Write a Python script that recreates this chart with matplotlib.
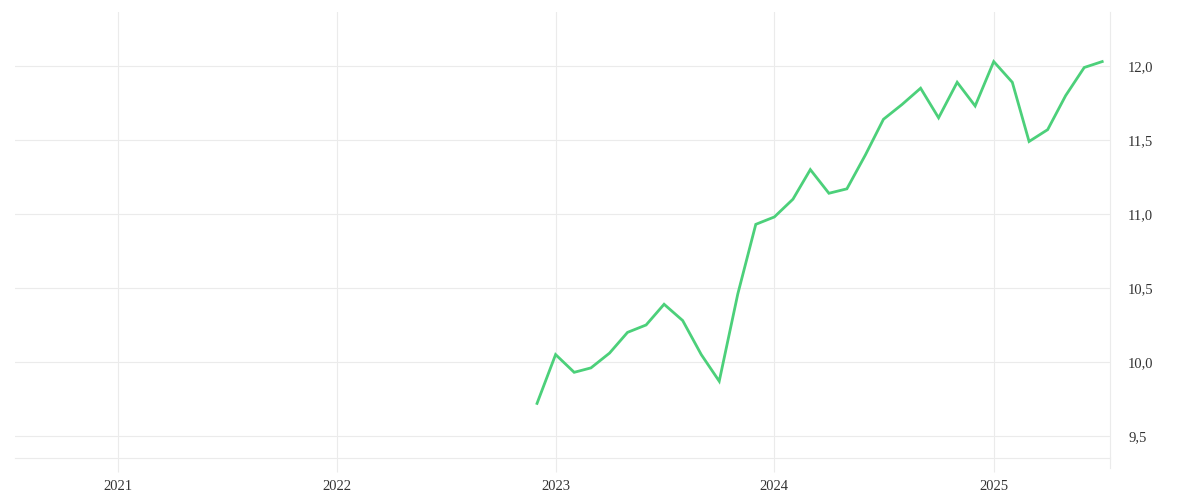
import numpy as np
import pandas as pd
import matplotlib
matplotlib.use("Agg")
import matplotlib.pyplot as plt
import matplotlib.dates as mdates
from matplotlib.ticker import FuncFormatter, FixedLocator

plt.rcParams['font.family'] = ['Liberation Serif', 'DejaVu Serif']
plt.rcParams['font.size'] = 10.5

# monthly series, Dec 2022 .. Jul 2025
months = pd.date_range('2022-12-01', '2025-07-01', freq='MS')
values = [9.72, 10.05, 9.93, 9.96, 10.06, 10.20, 10.25, 10.39, 10.28, 10.05,
          9.87, 10.46, 10.93, 10.98, 11.10, 11.30, 11.14, 11.17, 11.40, 11.64,
          11.74, 11.85, 11.65, 11.89, 11.73, 12.03, 11.89, 11.49, 11.57, 11.80,
          11.99, 12.03]
year_ticks = pd.to_datetime(['2021-01-01', '2022-01-01', '2023-01-01', '2024-01-01', '2025-01-01'])
y_ticks = [9.5, 10.0, 10.5, 11.0, 11.5, 12.0]

GRID = '#ebebeb'
LINE = '#4cd07a'

fig = plt.figure(figsize=(12, 5), dpi=100)
ax = fig.add_axes([0.0125, 0.084, 0.9125, 0.892])

ax.plot(months, values, color=LINE, linewidth=2.0, solid_joinstyle='miter', zorder=3)

ax.set_xlim(pd.Timestamp('2020-07-13'), pd.Timestamp('2025-07-14'))
ax.set_ylim(9.351, 12.365)

ax.xaxis.set_major_locator(FixedLocator(mdates.date2num(year_ticks)))
ax.xaxis.set_major_formatter(mdates.DateFormatter('%Y'))
ax.yaxis.set_major_locator(FixedLocator(y_ticks))
ax.yaxis.set_major_formatter(FuncFormatter(lambda v, p: f'{v:.1f}'.replace('.', ',')))

ax.yaxis.tick_right()
ax.grid(True, color=GRID, linewidth=0.8, zorder=0)
for side in ['top', 'left']:
    ax.spines[side].set_visible(False)
for side in ['bottom', 'right']:
    ax.spines[side].set_color(GRID)
    ax.spines[side].set_linewidth(0.8)

# right spine runs a little below the bottom line, like the tick marks
ax.plot([1, 1], [-10 / 446, 0], transform=ax.transAxes, color=GRID,
        linewidth=0.8, clip_on=False)

ax.tick_params(axis='x', length=10, width=0.8, color=GRID, pad=6, labelcolor='#333333')
ax.tick_params(axis='y', length=0, pad=13, labelcolor='#333333')

fig.savefig('out.png', dpi=100)
